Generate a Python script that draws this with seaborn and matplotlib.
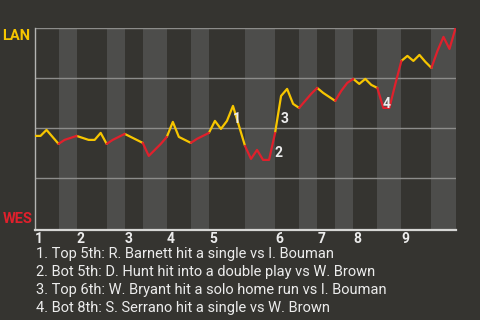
import matplotlib
matplotlib.use("Agg")
import matplotlib.pyplot as plt
import seaborn as sns
import pandas as pd

# ---- data ----
win_prob = [46.2, 46.2, 49.2, 45.7, 42.2,
            44.2, 45.2, 46.2,
            45.2, 44.2, 44.2, 47.7, 42.2,
            44.2, 45.7, 47.2,
            45.7, 44.2, 42.7,
            36.2, 39.2, 42.2, 45.7,
            53.2, 45.7, 44.2, 42.7,
            44.7, 46.2, 47.7,
            53.7, 49.7, 53.7, 61.2, 51.2, 41.2,
            34.7, 39.2, 34.2, 34.2, 47.7,
            66.2, 69.7, 62.2, 60.2,
            63.7, 67.2, 70.2,
            67.7, 65.7, 63.7,
            68.7, 72.7, 74.7,
            72.2, 74.7, 71.7, 70.2,
            60.2, 60.2, 72.2, 83.7,
            86.2, 83.7, 86.7, 83.2, 80.2,
            88.7, 95.7, 89.7, 100.0]
half_starts = [0, 4, 7, 12, 15, 18, 22, 26, 29, 35, 40, 44, 47, 50, 53, 57, 61, 66, 70]
inning_labels = ["1", "2", "3", "4", "5", "6", "7", "8", "9"]
team_top = "LAN"
team_bottom = "WES"
event_index = [34, 39, 41, 58]
event_labels = ["1", "2", "3", "4"]
event_text = [
    "1. Top 5th: R. Barnett hit a single vs I. Bouman",
    "2. Bot 5th: D. Hunt hit into a double play vs W. Brown",
    "3. Top 6th: W. Bryant hit a solo home run vs I. Bouman",
    "4. Bot 8th: S. Serrano hit a single vs W. Brown",
]

# ---- style ----
BG = "#353430"
BAND = "#4d4d4b"
YEL = "#f7c600"
RED = "#e0202c"
TXT = "#ececec"

rows = []
for seg in range(len(half_starts) - 1):
    half = "top" if seg % 2 == 0 else "bot"
    for i in range(half_starts[seg], half_starts[seg + 1] + 1):
        rows.append({"x": i, "p": win_prob[i] / 100.0, "half": half, "seg": seg})
df = pd.DataFrame(rows)

sns.set_style("dark")
plt.rcParams["font.family"] = ["Roboto", "DejaVu Sans"]

fig = plt.figure(figsize=(4.8, 3.2), dpi=100, facecolor=BG)
ax = fig.add_axes([34.5 / 480, 1 - 230 / 320, 421 / 480, (230 - 28.3) / 320])
ax.set_facecolor(BG)

# shaded bottom halves
for seg in range(1, len(half_starts) - 1, 2):
    ax.axvspan(half_starts[seg], half_starts[seg + 1], color=BAND, lw=0, zorder=0)

for yv in [0.25, 0.5, 0.75, 1.0]:
    ax.axhline(yv, color="#8c8c8a", lw=1.0, zorder=1)

sns.lineplot(data=df, x="x", y="p", hue="half", units="seg", estimator=None,
             palette={"top": YEL, "bot": RED}, lw=1.6, legend=False, ax=ax,
             zorder=3, sort=False)

ax.set_xlim(half_starts[0], half_starts[-1])
ax.set_ylim(-1.7 / 200, 1.0)
ax.set_xlabel("")
ax.set_ylabel("")
ax.set_yticks([])
for s in ["top", "right"]:
    ax.spines[s].set_visible(False)
ax.spines["left"].set_visible(True)
ax.spines["left"].set_color("#b4b4b2")
ax.spines["left"].set_linewidth(1.0)
ax.spines["bottom"].set_visible(True)
ax.spines["bottom"].set_color("#d6d6d4")
ax.spines["bottom"].set_linewidth(1.6)

ax.set_xticks(half_starts[:-1:2])
ax.set_xticklabels(inning_labels, ha="left", fontsize=10, fontweight="bold", color=TXT)
ax.tick_params(axis="x", length=0, pad=1.5)

ax.text(-0.009, 0.997, team_top, transform=ax.transAxes, ha="right", va="top",
        fontsize=10.5, fontweight="bold", color=YEL)
ax.text(-0.005, 0.02, team_bottom, transform=ax.transAxes, ha="right", va="bottom",
        fontsize=10.5, fontweight="bold", color=RED)

offsets = [(-1.4, 5.0), (6.5, 5.0), (2.2, -16.6), (2.2, 2.9)]
for idx, lab, off in zip(event_index, event_labels, offsets):
    ax.annotate(lab, xy=(idx, win_prob[idx] / 100.0), xytext=off,
                textcoords="offset points", ha="center", va="center",
                fontsize=10, fontweight="bold", color=TXT, zorder=5)

for k, line in enumerate(event_text):
    fig.text(36 / 480, 1 - (258 + 18 * k) / 320, line, ha="left", va="baseline",
             fontsize=10.5, color=TXT)

fig.savefig("out.png", dpi=100, facecolor=BG)
